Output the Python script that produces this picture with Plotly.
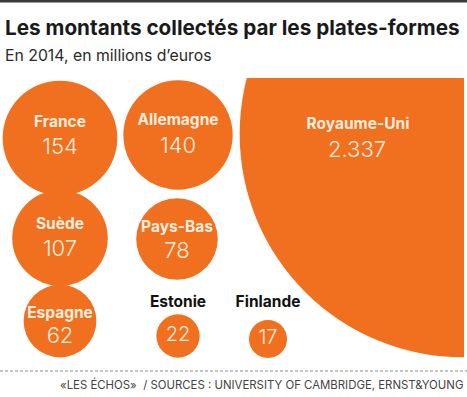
import plotly.graph_objects as go
import numpy as np

# ---- data ----
countries = ["France", "Allemagne", "Royaume-Uni", "Suède", "Pays-Bas", "Espagne", "Estonie", "Finlande"]
values = [154, 140, 2337, 107, 78, 62, 22, 17]
value_labels = ["154", "140", "2.337", "107", "78", "62", "22", "17"]

# ---- layout (bubble packing positions, in px of the 467x397 canvas) ----
cx = [60, 178, 463, 60, 177, 60, 178, 268]
cy = [138, 135, 134, 238, 239, 321, 336, 339]
name_dy = [-15, -14, None, -13, -11, -7, -33, -36]
value_dy = [10, 12, None, 12, 13, 16, 0, 0]
inside_name = [True, True, True, True, True, True, False, False]

W, H = 467, 397
# bubble area (clips the Royaume-Uni bubble)
AX0, AX1, AY0, AY1 = 0, 464, 78, 360

k = 4.62  # px radius per sqrt(value)
diam = [2 * k * np.sqrt(v) for v in values]

ORANGE = "#F0701F"
CREAM = "#FCEEDF"
FONT = "Inter"

fig = go.Figure()
fig.add_trace(go.Scatter(
    x=cx, y=cy, mode="markers",
    marker=dict(size=diam, sizemode="diameter", color=ORANGE, opacity=1,
                line=dict(width=0)),
    cliponaxis=True, hoverinfo="skip", showlegend=False))

# UK labels positioned separately
uk_name_xy = (358, 125)
uk_val_xy = (357, 151)

nx, ny, nt, ncol = [], [], [], []
vx, vy, vt, vsz = [], [], [], []
for i, c in enumerate(countries):
    if c == "Royaume-Uni":
        nx.append(uk_name_xy[0]); ny.append(uk_name_xy[1])
        vx.append(uk_val_xy[0]); vy.append(uk_val_xy[1])
    else:
        nx.append(cx[i]); ny.append(cy[i] + name_dy[i])
        vx.append(cx[i]); vy.append(cy[i] + value_dy[i])
    nt.append("<b>" + c + "</b>")
    ncol.append(CREAM if inside_name[i] else "#111111")
    vt.append(value_labels[i])
    vsz.append(22 if values[i] > 50 else 20)

fig.add_trace(go.Scatter(x=nx, y=ny, mode="text", text=nt,
                         textfont=dict(family=FONT, size=15.5, color=ncol),
                         cliponaxis=False, hoverinfo="skip", showlegend=False))
fig.add_trace(go.Scatter(x=vx, y=vy, mode="text", text=vt,
                         textfont=dict(family=FONT, size=vsz, color=CREAM, weight=300),
                         cliponaxis=False, hoverinfo="skip", showlegend=False))


def py(y):
    return 1 - y / H


def px(x):
    return x / W


fig.update_layout(
    width=W, height=H,
    margin=dict(l=0, r=0, t=0, b=0, pad=0),
    paper_bgcolor="white", plot_bgcolor="white",
    xaxis=dict(range=[AX0, AX1], domain=[px(AX0), px(AX1)], visible=False, fixedrange=True),
    yaxis=dict(range=[AY1, AY0], domain=[py(AY1), py(AY0)], visible=False, fixedrange=True),
    shapes=[
        dict(type="rect", xref="paper", yref="paper", x0=0, x1=1,
             y0=py(0), y1=py(2.5), fillcolor="#3a3a3a", line=dict(width=0), layer="above"),
        dict(type="line", xref="paper", yref="paper", x0=0, x1=1,
             y0=py(371), y1=py(371), line=dict(color="#888888", width=1, dash="3px,2px")),
    ],
    annotations=[
        dict(text="<b>Les montants collectés par les plates-formes</b>", xref="paper", yref="paper",
             x=px(3), y=py(28), xanchor="left", yanchor="middle", showarrow=False,
             font=dict(family=FONT, size=20.7, color="#1a1a1a")),
        dict(text="En 2014, en millions d’euros", xref="paper", yref="paper",
             x=px(3), y=py(55), xanchor="left", yanchor="middle", showarrow=False,
             font=dict(family=FONT, size=15.8, color="#2a2a2a")),
        dict(text="«LES ÉCHOS»  / SOURCES : UNIVERSITY OF CAMBRIDGE, ERNST&YOUNG", xref="paper", yref="paper",
             x=px(465), y=py(384), xanchor="right", yanchor="middle", showarrow=False,
             font=dict(family=FONT, size=11.4, color="#444444")),
    ],
)

fig.write_html("out.html", config={"displayModeBar": False},
               post_script="document.body.style.margin='0px';")
